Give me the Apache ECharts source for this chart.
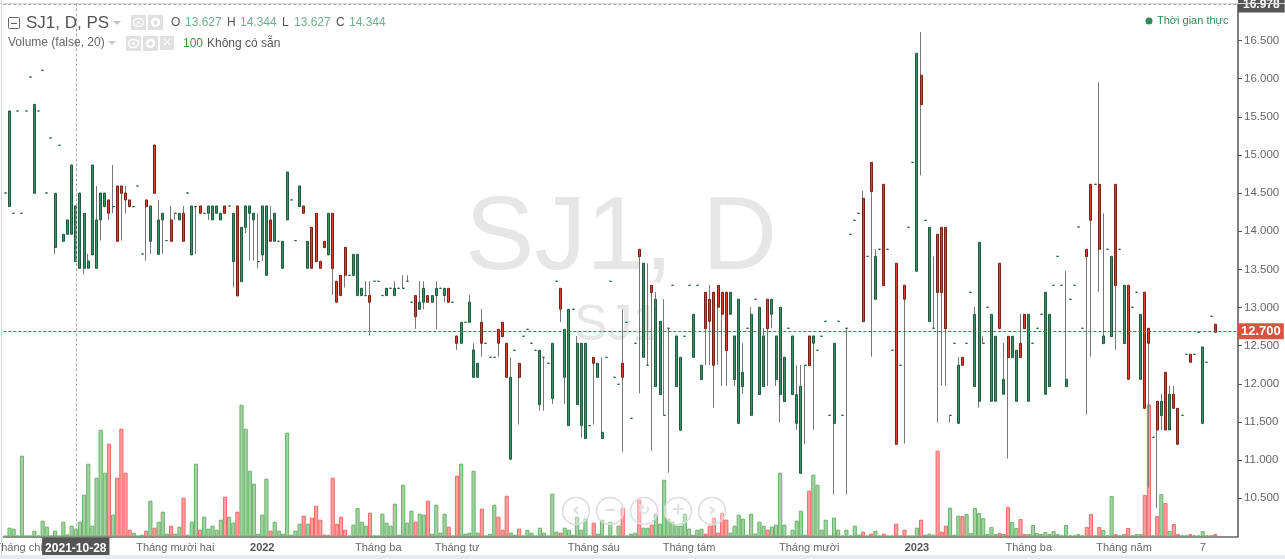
<!DOCTYPE html>
<html>
<head>
<meta charset="UTF-8">
<title>SJ1, D</title>
<script src="https://cdn.jsdelivr.net/npm/echarts@6/dist/echarts.min.js"></script>
<style>html,body,#container{width:1285px;height:559px;margin:0;padding:0;background:#fff;overflow:hidden;}</style>
</head>
<body>
<div id="container"></div>
<script>
var opens = [
14.501,14.322,14.235,15.576,14.235,15.576,16.021,14.497,15.576,16.109,
14.501,15.222,13.785,15.126,13.868,13.960,13.960,13.601,13.514,13.514,
13.514,13.689,13.514,14.148,14.322,14.410,14.322,14.593,14.593,14.501,
14.410,14.322,14.593,13.702,14.410,13.868,15.130,13.697,14.148,13.877,
14.148,14.235,14.148,14.235,14.501,13.689,14.322,14.331,14.235,14.235,
14.148,14.235,14.148,14.331,14.331,13.601,14.331,13.339,14.051,14.235,
14.148,13.601,13.689,13.422,14.148,13.868,13.868,13.514,14.148,14.410,
13.877,14.322,14.331,13.514,14.051,14.235,13.606,13.868,13.689,14.235,
13.344,13.422,13.789,13.422,13.422,13.156,13.156,13.156,13.156,13.344,
13.344,13.156,13.156,13.252,13.156,13.252,13.252,13.344,13.069,13.156,
12.977,13.069,13.156,13.069,13.156,13.252,13.156,13.252,13.069,12.627,
12.531,12.806,12.806,12.085,12.085,12.806,12.531,12.347,12.347,12.714,
12.806,12.531,11.011,12.439,12.269,12.623,12.714,12.531,12.439,11.727,
12.347,12.269,11.806,13.344,13.252,12.085,11.452,12.977,11.727,11.452,
11.282,11.452,12.347,12.085,11.282,12.347,13.344,12.085,11.994,12.269,
12.806,11.548,12.531,13.763,12.347,12.243,13.291,11.963,11.858,11.587,
12.728,13.291,11.963,11.391,12.623,13.291,12.347,13.291,12.055,13.200,
13.108,13.200,13.291,13.200,13.200,12.911,12.055,11.482,11.963,12.728,
11.587,13.108,11.858,11.963,13.108,12.911,12.055,11.858,11.767,12.728,
11.858,11.482,10.827,12.243,12.627,12.531,12.439,12.623,12.819,11.587,
11.482,12.819,11.587,12.728,13.960,14.143,14.235,14.431,13.671,14.903,
13.108,13.763,14.615,13.763,12.439,13.580,12.243,13.291,14.051,14.903,
13.475,16.043,14.143,12.815,12.728,13.960,14.051,14.051,11.587,12.531,
11.482,12.347,12.531,13.200,11.963,11.771,12.531,13.003,11.771,11.771,
13.580,11.863,12.623,12.343,11.771,12.531,12.911,11.771,12.531,12.728,
12.911,11.863,11.963,13.291,13.671,13.291,11.963,13.108,13.291,14.056,
12.728,13.763,14.615,14.615,14.615,12.527,13.763,12.618,14.615,13.763,
12.527,13.291,13.003,13.200,12.059,13.200,12.728,11.299,11.771,11.583,
12.151,11.395,11.863,11.679,11.587,12.387,12.387,12.387,12.675,11.482,
12.282,12.885,12.781];

var closes = [
14.501,15.576,14.235,15.576,14.235,15.576,16.021,15.663,15.576,16.109,
14.501,15.222,14.497,15.126,13.960,14.148,14.868,14.331,14.501,14.235,
13.610,14.868,14.148,14.501,14.501,14.235,14.322,13.868,14.497,14.410,
14.322,14.322,14.593,13.702,14.322,14.331,14.497,14.148,14.235,13.877,
13.868,14.235,14.235,13.868,14.501,14.331,14.322,14.235,14.235,14.331,
14.331,14.331,14.235,14.235,14.331,14.235,13.151,14.051,14.331,14.331,
14.235,13.601,14.331,14.331,13.868,14.235,13.868,13.868,14.777,14.410,
13.877,14.593,14.235,13.868,13.514,13.601,13.514,13.785,14.235,13.510,
13.069,13.156,13.422,13.422,13.697,13.697,13.252,13.156,13.069,13.344,
13.344,13.156,13.252,13.252,13.252,13.252,13.252,13.344,13.069,12.881,
13.069,13.252,13.069,13.156,13.252,13.252,13.252,13.069,13.069,12.531,
12.806,12.806,13.069,12.444,12.269,12.531,12.531,12.347,12.347,12.531,
12.618,12.085,12.085,12.439,12.085,12.623,12.714,12.531,12.439,12.439,
12.347,12.269,12.531,13.344,12.977,12.714,12.977,12.977,12.531,12.531,
12.531,11.452,12.269,12.269,11.364,12.347,13.344,12.085,11.994,12.085,
12.806,11.548,12.531,13.667,13.580,12.243,13.195,13.108,12.819,11.587,
12.728,13.291,12.627,12.347,12.623,13.291,12.911,13.291,12.243,12.723,
12.819,12.243,13.003,12.911,12.435,13.200,12.627,13.108,12.151,12.728,
12.911,13.108,13.003,12.627,12.723,13.108,12.627,13.003,12.347,12.728,
12.627,11.858,11.967,12.243,12.238,12.627,12.439,12.623,12.819,11.587,
12.531,12.819,11.587,12.728,13.960,14.143,14.235,12.815,13.671,14.519,
13.671,13.763,13.287,13.763,12.439,11.207,12.243,13.108,14.051,14.903,
16.332,15.659,14.143,14.051,12.728,13.195,13.195,12.723,11.587,12.531,
12.243,12.243,12.531,13.200,12.911,13.855,12.531,13.003,12.911,12.623,
12.723,12.059,12.343,12.623,12.439,12.343,12.723,12.911,12.531,12.728,
12.911,13.200,12.911,13.291,13.671,13.291,12.059,13.108,13.291,14.056,
12.728,13.667,14.143,14.615,13.763,12.627,13.763,13.671,13.287,13.763,
13.291,12.059,13.003,13.200,12.911,11.679,12.531,11.299,11.395,11.771,
11.395,11.863,11.679,11.207,11.587,12.387,12.282,12.387,12.675,12.483,
12.282,12.885,12.675];

var highs = [
14.501,15.576,14.235,15.576,14.235,15.576,16.021,15.663,15.576,16.109,
14.501,15.222,14.497,15.126,13.960,14.148,14.868,14.331,14.501,14.235,
13.702,14.868,14.593,14.501,14.501,14.410,14.868,14.593,14.593,14.593,
14.410,14.322,14.593,13.702,14.410,14.331,15.130,14.410,14.235,13.877,
14.331,14.235,14.235,14.331,14.501,14.331,14.322,14.331,14.235,14.331,
14.331,14.331,14.235,14.331,14.331,14.235,14.331,14.051,14.331,14.331,
14.235,14.235,14.331,14.331,14.331,14.235,13.868,13.868,14.777,14.410,
13.877,14.593,14.331,13.868,14.051,14.235,13.606,13.868,14.235,14.235,
13.344,13.422,13.789,13.422,13.697,13.697,13.252,13.344,13.344,13.344,
13.344,13.156,13.252,13.252,13.344,13.252,13.422,13.422,13.069,13.156,
13.344,13.344,13.156,13.156,13.344,13.252,13.252,13.252,13.069,12.627,
12.806,12.806,13.164,12.531,12.269,12.981,12.531,12.347,12.347,12.714,
12.806,12.531,12.347,12.439,12.269,12.623,12.714,12.531,12.439,12.439,
12.347,12.269,12.531,13.344,13.252,12.714,12.977,12.977,12.627,12.531,
12.531,11.452,12.347,12.269,12.347,12.347,13.344,12.085,11.994,12.981,
12.806,11.548,12.531,13.763,13.580,13.580,13.291,13.204,12.819,13.108,
12.728,13.291,12.627,12.347,12.623,13.291,12.911,13.291,12.243,13.200,
13.295,13.200,13.291,13.200,13.200,13.200,12.627,13.108,12.531,12.728,
13.003,13.108,13.003,12.728,13.108,13.108,12.627,13.003,12.347,12.728,
12.627,12.247,12.247,12.243,12.627,12.627,12.439,12.623,12.819,11.587,
12.531,12.819,11.587,12.728,13.960,14.143,14.235,14.528,13.671,14.903,
13.767,13.763,14.615,13.763,12.439,13.580,12.243,13.291,14.051,14.903,
16.332,16.611,14.143,14.051,13.671,13.960,14.051,14.051,11.587,12.531,
12.352,12.347,12.531,13.200,13.007,13.855,12.623,13.003,12.911,12.623,
13.580,12.535,12.623,12.623,12.439,12.915,12.911,12.911,12.531,12.728,
12.911,13.200,12.911,13.291,13.671,13.291,13.479,13.108,13.291,14.056,
12.728,13.763,14.615,14.615,15.952,14.235,13.763,13.671,14.615,13.763,
13.291,13.291,13.003,13.200,12.911,13.200,12.728,11.299,11.771,11.867,
12.151,11.972,11.972,11.679,11.587,12.387,12.387,12.387,12.675,12.483,
12.282,12.885,12.781];

var lows = [
14.501,14.322,14.235,15.576,14.235,15.576,16.021,14.497,15.576,16.109,
14.501,15.222,13.702,15.126,13.868,13.960,13.960,13.601,13.514,13.435,
13.514,13.689,13.514,13.877,14.322,14.148,14.235,13.868,13.877,14.235,
14.322,14.322,14.593,13.702,13.614,13.702,14.497,13.697,13.702,13.877,
13.868,14.148,14.148,13.868,14.501,13.689,13.702,14.235,14.235,14.148,
14.148,14.235,14.148,14.235,14.331,13.265,13.151,13.339,13.973,13.614,
13.614,13.514,13.614,13.422,13.868,13.868,13.868,13.514,14.148,14.410,
13.877,14.322,14.235,13.514,13.514,13.601,13.514,13.785,13.689,13.164,
13.069,13.156,13.261,13.422,13.422,13.156,13.156,13.156,12.631,13.344,
13.344,13.156,13.156,13.252,13.156,13.252,13.252,13.344,13.069,12.719,
12.977,12.977,13.069,13.069,12.719,13.252,13.069,13.069,13.069,12.444,
12.531,12.806,12.806,12.085,12.085,12.356,12.531,12.347,12.347,12.356,
12.618,12.085,11.011,12.439,11.465,12.623,12.714,12.531,12.439,11.648,
11.648,12.269,11.736,13.344,12.811,11.736,11.452,12.977,11.727,11.295,
11.282,11.452,11.465,12.085,11.282,12.347,13.344,12.085,11.994,11.111,
12.806,11.548,12.531,11.875,12.347,12.243,11.124,11.963,11.858,11.587,
10.836,13.291,11.963,11.391,12.623,13.291,12.347,13.291,12.055,12.247,
12.247,11.688,12.247,11.972,11.972,12.911,11.972,11.482,11.867,12.728,
11.587,13.108,11.858,11.963,11.972,12.728,11.972,11.491,11.767,12.728,
11.858,11.395,10.827,11.212,12.238,11.395,12.439,12.623,12.819,11.587,
10.548,12.819,11.587,10.548,13.960,14.143,14.235,12.815,13.671,12.356,
13.108,13.763,13.287,13.763,12.439,11.207,12.243,11.216,14.051,14.903,
13.475,14.733,14.143,12.815,12.728,11.491,11.976,11.976,11.491,12.531,
11.482,12.243,12.531,13.200,11.963,11.688,12.531,13.003,11.771,11.771,
12.723,11.863,11.020,12.343,11.771,12.343,12.723,11.771,12.531,12.728,
12.911,11.863,11.963,13.291,13.671,13.291,11.963,13.108,13.291,14.056,
12.728,11.596,12.356,14.615,13.208,12.527,13.763,12.618,12.448,13.763,
12.527,12.059,13.003,13.200,12.059,11.679,10.640,11.299,10.369,11.395,
11.395,11.395,11.679,11.207,11.587,12.387,12.282,12.387,12.675,11.482,
12.282,12.885,12.675];

var volumes = [
0.5,8.7,7.7,0.7,80.7,0.7,0.7,5.7,0.7,15.7,
9.7,0.7,5.7,0.7,14.7,2,10.7,7.7,14.7,41.7,
72.7,10.7,58.7,106.7,63.7,92.7,21.7,58.7,107.7,63.7,
6.7,3.7,0.7,1.7,5.7,35.7,8.7,14.7,24.7,2.7,
10.7,2.7,9.7,38.7,1.7,14.7,72.7,6.7,19.7,7.7,
10.7,6.7,16.7,39.7,19.7,13.7,24.7,131.7,107.7,65.7,
52.7,2.7,21.7,57.7,5.7,14.7,5.7,2.7,103.7,1.7,
5.7,12.7,20.7,12.7,18.7,30.7,16.7,1.7,1.7,58.7,
12.7,19.7,6.7,0.7,11.7,28.3,14.7,10.7,23.7,0.7,
0.7,22.7,13.7,10.7,32.7,1.7,51.7,13.7,25.7,14.7,
22.7,21.7,35.7,2.7,31.7,3.7,22.7,9.7,0.7,60.7,
72.7,2.7,3.7,65.7,3.7,27.7,0.7,2.7,31.7,19.7,
6.7,40.7,3.7,1.7,7.7,0.7,6.7,3.7,0.7,8.7,
3.7,0.7,42.7,4.7,3.7,8.7,6.7,1.7,19.7,6.7,
17.7,0.7,13.7,2.7,16.7,0.7,14.7,0.7,10.7,28.7,
0.7,2.7,3.7,36.7,8.7,8.7,11.7,22.7,12.7,56.7,
17.7,14.7,10.7,10.7,22.7,7.7,1.7,6.7,7.7,2.7,
10.7,18.7,3.7,23.7,16.7,3.7,10.7,21.7,17.7,1.7,
22.7,2.7,14.7,10.7,6.7,9.7,11.7,63.7,11.7,0.7,
6.7,15.7,25.7,1.7,45.7,61.7,51.7,6.7,16.7,0.7,
18.7,6.7,0.7,6.7,0.7,10.7,1.7,4.7,0.7,2.7,
5.7,0.7,2.7,0.7,0.7,12.7,0.7,6.7,0.7,0.7,
8.7,16.7,1.7,2.7,1.7,85.7,4.7,10.7,28.7,1.7,
20.7,20.3,22.3,3.3,28.3,23.3,18.3,2.3,9.3,2.3,
3.3,2.3,29.3,14.3,8.3,17.3,2.3,2.3,11.3,3.3,
2.3,4.3,2.3,5.3,2.3,1,11.3,1,1,2.3,
1,9.3,22.3,1,9.3,6.3,1,40.3,2.3,1,
2.3,8.3,1,2.3,2.3,41.3,132,1,20.3,42.3,
33.3,5.3,12.3,2.3,1,1,2.3,1,1,5.3,
1,1,2.3];

var tickIndexes = [4, 41, 62, 90, 109, 142, 165, 194, 220, 247, 270, 289];
var tickLabels = ['Tháng chín', 'Tháng mười hai', '2022', 'Tháng ba', 'Tháng tư', 'Tháng sáu', 'Tháng tám', 'Tháng mười', '2023', 'Tháng ba', 'Tháng năm', '7'];
var priceTicks = [10.5, 11, 11.5, 12, 12.5, 13, 13.5, 14, 14.5, 15, 15.5, 16, 16.5];

var categories = [];
for (var i = 0; i < 298; i++) categories.push('');
tickIndexes.forEach(function (t, k) { categories[t] = tickLabels[k]; });

var axisTop = 16.978;
var lastPrice = 12.7;
var lastPriceLine = 12.688;
var crossIndex = 17;
var crossDate = '2021-10-28';

var fontName = '"Liberation Sans", Arial, sans-serif';
var greenFill = '#3f8f66', greenEdge = '#1f5c3f';
var redFill = '#d8402e', redEdge = '#7a2018';

function txt(x, y, s, size, color, extra) {
  return {
    type: 'text', x: x, y: y, z: 50, silent: true,
    style: Object.assign({ text: s, font: size + 'px ' + fontName, fill: color, textVerticalAlign: 'middle' }, extra || {})
  };
}
function box(x, y, w, h, fill) {
  return { type: 'rect', z: 50, silent: true, shape: { x: x, y: y, width: w, height: h }, style: { fill: fill } };
}
function tri(x, y) {
  return { type: 'polygon', z: 50, silent: true, shape: { points: [[x, y], [x + 8, y], [x + 4, y + 4]] }, style: { fill: '#c4c4c4' } };
}
function eye(x, y) {
  return [box(x, y, 15, 15, '#e0e0e0'),
    { type: 'ellipse', z: 51, silent: true, shape: { cx: x + 7.5, cy: y + 7.5, rx: 5, ry: 4 }, style: { fill: 'none', stroke: '#fff', lineWidth: 1.5 } },
    { type: 'circle', z: 51, silent: true, shape: { cx: x + 7.5, cy: y + 7.5, r: 1.6 }, style: { fill: '#fff' } }];
}
function gear(x, y) {
  return [box(x, y, 15, 15, '#e0e0e0'),
    { type: 'circle', z: 51, silent: true, shape: { cx: x + 7.5, cy: y + 7.5, r: 3.5 }, style: { fill: 'none', stroke: '#fff', lineWidth: 2.5 } }];
}
function navBtn(cx, s, size) {
  return [
    { type: 'circle', z: 60, silent: true, shape: { cx: cx, cy: 511, r: 13.5 }, style: { fill: 'rgba(255,255,255,0.35)', stroke: '#dcdcdc', lineWidth: 1.5 } },
    txt(cx, 511, s, size, '#d0d0d0', { textAlign: 'center', font: 'bold ' + size + 'px "DejaVu Sans"' })
  ];
}

var chrome = [
  { type: 'text', x: 621, y: 240, z: 0, silent: true, style: { text: 'SJ1, D', font: '104px ' + fontName, fill: '#e6e6e6', textAlign: 'center', textVerticalAlign: 'middle' } },
  { type: 'text', x: 617, y: 326, z: 0, silent: true, style: { text: 'SJ1', font: '50px ' + fontName, fill: '#e6e6e6', textAlign: 'center', textVerticalAlign: 'middle' } },
  box(0, 3, 1285, 1, '#d8d8de'),
  box(1, 0, 1, 556, '#d4d4da'),
  box(0, 555, 1285, 4, '#e8e8f0'),
  { type: 'rect', z: 50, silent: true, shape: { x: 8.5, y: 17.5, width: 11, height: 11, r: 1 }, style: { fill: '#fff', stroke: '#666', lineWidth: 1 } },
  box(11, 23, 6, 1, '#666'),
  txt(26, 23, 'SJ1, D, PS', 17, '#555'),
  tri(113, 21),
  txt(171, 23, 'O', 12, '#555'),
  txt(185, 23, '13.627', 12, '#6fb08c'),
  txt(227, 23, 'H', 12, '#555'),
  txt(240, 23, '14.344', 12, '#6fb08c'),
  txt(282, 23, 'L', 12, '#555'),
  txt(294, 23, '13.627', 12, '#6fb08c'),
  txt(336, 23, 'C', 12, '#555'),
  txt(349, 23, '14.344', 12, '#6fb08c'),
  txt(8, 43, 'Volume (false, 20)', 12, '#666'),
  tri(108, 41),
  txt(183, 44, '100', 12, '#2f9a2f'),
  txt(207, 44, 'Không có sẵn', 12, '#555'),
  box(160, 36, 14, 14, '#e0e0e0'),
  txt(167, 43, '✕', 11, '#fff', { textAlign: 'center', font: 'bold 11px "DejaVu Sans"' }),
  { type: 'circle', z: 50, silent: true, shape: { cx: 1149, cy: 21, r: 3.5 }, style: { fill: '#2e8b57' } },
  txt(1157, 21, 'Thời gian thực', 11, '#2e8b57')
].concat(eye(131, 15), gear(148, 15), eye(126, 36), gear(143, 36),
  navBtn(576, '‹', 20), navBtn(610, '−', 16), navBtn(644, '↻', 15), navBtn(678, '+', 17), navBtn(712, '›', 20));

var chart = echarts.init(document.getElementById('container'), null, { renderer: 'canvas' });

var crossLine = { color: '#a8a8a8', type: [3, 2], width: 1 };
var crossLabel = { show: true, color: '#fff', backgroundColor: '#555', fontFamily: fontName, fontSize: 12, fontWeight: 'bold' };

chart.setOption({
  animation: false,
  backgroundColor: '#fff',
  textStyle: { fontFamily: fontName },
  graphic: { elements: chrome },
  grid: { left: 3.3, top: 4, width: 1234.7, height: 532.4, containLabel: false, outerBoundsMode: 'none' },
  xAxis: {
    type: 'category',
    data: categories,
    boundaryGap: true,
    axisLine: { lineStyle: { color: '#666', width: 1.5 } },
    axisTick: { alignWithLabel: true, length: 4, lineStyle: { color: '#666' }, interval: function (i) { return tickIndexes.indexOf(i) >= 0; } },
    axisLabel: {
      interval: function (i) { return tickIndexes.indexOf(i) >= 0; },
      color: '#666', fontSize: 11, margin: 6,
      formatter: function (v) { return /^20/.test(v) ? '{year|' + v + '}' : v; },
      rich: { year: { fontWeight: 'bold', color: '#555', fontSize: 11 } }
    },
    splitLine: { show: false }
  },
  yAxis: [{
    type: 'value', position: 'right', min: 10, max: axisTop, scale: true,
    axisLine: { show: true, lineStyle: { color: '#555', width: 1.5 } },
    axisTick: { show: true, length: 4, lineStyle: { color: '#555' }, customValues: priceTicks },
    axisLabel: { color: '#666', fontSize: 11.5, margin: 6, customValues: priceTicks, formatter: function (v) { return v.toFixed(3); } },
    splitLine: { show: false }
  }, {
    type: 'value', show: false, min: 0, max: 532.4, splitLine: { show: false }
  }],
  series: [{
    name: 'Volume',
    type: 'bar',
    yAxisIndex: 1,
    barWidth: '100%',
    silent: true,
    z: 1,
    data: volumes.map(function (v, i) {
      var down = closes[i] < opens[i];
      return { value: v, itemStyle: { color: down ? '#ff9f9f' : '#a3d1a3', borderColor: down ? '#f56767' : '#68b568', borderWidth: 1 } };
    })
  }, {
    name: 'Wick',
    type: 'candlestick',
    barWidth: 1,
    silent: true,
    z: 3,
    itemStyle: { color: 'transparent', color0: 'transparent', borderColor: '#777', borderColor0: '#777', borderColorDoji: '#777', borderWidth: 1 },
    data: opens.map(function (o, i) { return [o, closes[i], lows[i], highs[i]]; })
  }, {
    name: 'SJ1',
    type: 'candlestick',
    barWidth: 2.5,
    silent: true,
    z: 4,
    itemStyle: { color: greenFill, color0: redFill, borderColor: greenEdge, borderColor0: redEdge, borderColorDoji: greenEdge, borderWidth: 1 },
    data: opens.map(function (o, i) { return [o, closes[i], Math.min(o, closes[i]), Math.max(o, closes[i])]; }),
    markLine: {
      silent: true,
      symbol: 'none',
      animation: false,
      z: 20,
      data: [{
        yAxis: lastPriceLine,
        lineStyle: { color: '#b9483a', type: [3, 2], width: 1 },
        label: { show: true, position: 'end', distance: 0, formatter: lastPrice.toFixed(3), color: '#fff', backgroundColor: '#d9533f', fontFamily: fontName, fontSize: 13, fontWeight: 'bold', padding: [2, 3, 1, 3] }
      }, {
        yAxis: axisTop - 0.012,
        lineStyle: crossLine,
        label: Object.assign({}, crossLabel, { position: 'end', distance: 0, formatter: axisTop.toFixed(3), padding: [2, 5, 2, 5] })
      }, {
        xAxis: crossIndex,
        lineStyle: crossLine,
        label: Object.assign({}, crossLabel, { position: 'start', distance: 1, formatter: crossDate, padding: [5, 3, 5, 3] })
      }]
    }
  }]
});
</script>
</body>
</html>
